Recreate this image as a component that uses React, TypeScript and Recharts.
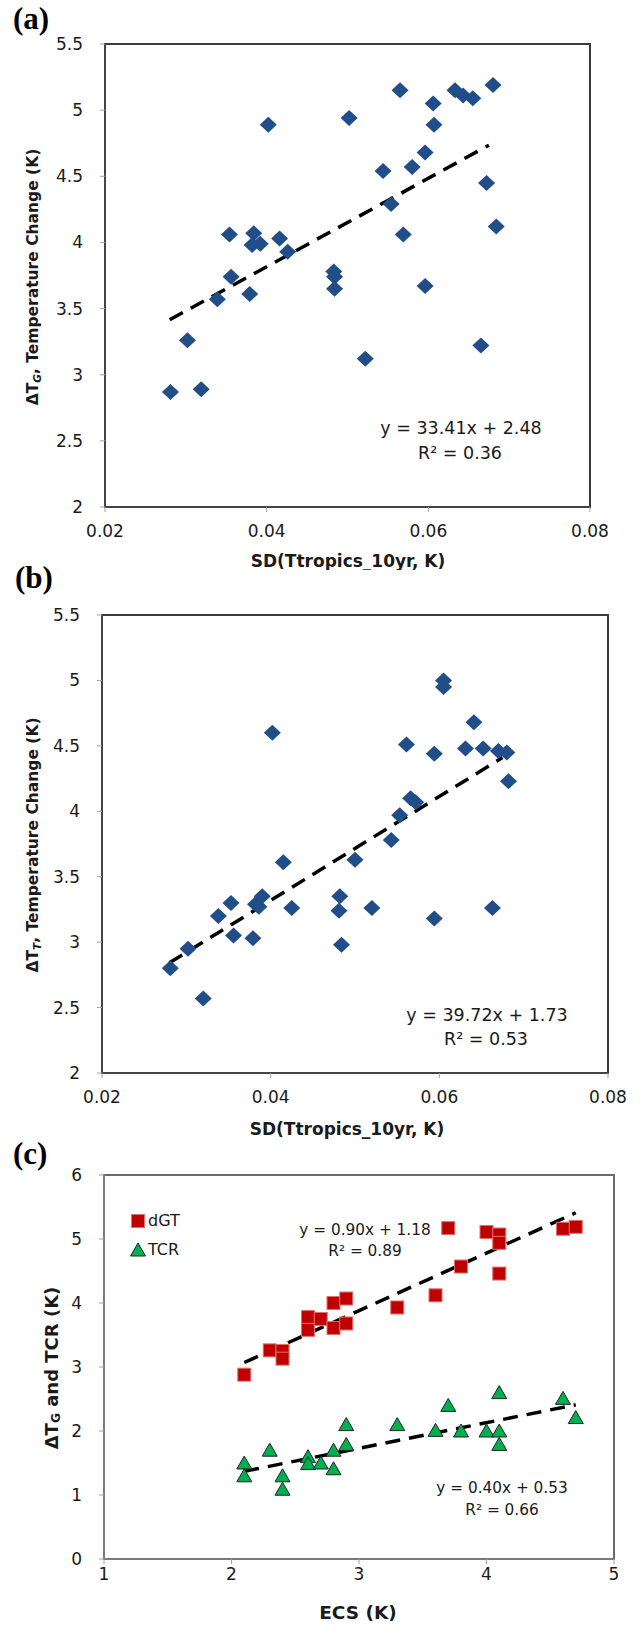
import React from 'react';
import { ScatterChart, Scatter, XAxis, YAxis, ReferenceLine, ReferenceArea, Legend, Label } from 'recharts';

const FONT = '"DejaVu Sans", Verdana, sans-serif';
const SERIF = '"Liberation Serif", "Times New Roman", serif';
const BLUE = '#214d88';
const RED = '#c00000';
const GREEN = '#00b050';
const INK = '#1a1a1a';

// (a) SD of tropical 10-yr temperature vs global warming
const sdTropicsA = [0.0281, 0.0302, 0.0319, 0.0339, 0.0354, 0.0356, 0.0379, 0.0384, 0.0382, 0.0392, 0.0402, 0.0416, 0.0426, 0.0483, 0.0484, 0.0484, 0.0502, 0.0522, 0.0544, 0.0554, 0.0565, 0.0569, 0.058, 0.0596, 0.0596, 0.0606, 0.0607, 0.0633, 0.0643, 0.0655, 0.0665, 0.0672, 0.068, 0.0684];
const dTGlobal = [2.87, 3.26, 2.89, 3.57, 4.06, 3.74, 3.61, 4.07, 3.98, 3.99, 4.89, 4.03, 3.93, 3.78, 3.74, 3.65, 4.94, 3.12, 4.54, 4.29, 5.15, 4.06, 4.57, 4.68, 3.67, 5.05, 4.89, 5.15, 5.11, 5.09, 3.22, 4.45, 5.19, 4.12];

// (b) same x, tropical warming
const sdTropicsB = [0.0281, 0.0302, 0.032, 0.0338, 0.0353, 0.0356, 0.0379, 0.0382, 0.0386, 0.039, 0.0402, 0.0415, 0.0425, 0.0482, 0.0481, 0.0484, 0.05, 0.052, 0.0543, 0.0553, 0.0561, 0.0566, 0.0572, 0.0594, 0.0594, 0.0605, 0.0605, 0.0631, 0.0641, 0.0652, 0.0663, 0.067, 0.068, 0.0682];
const dTTropics = [2.8, 2.95, 2.57, 3.2, 3.3, 3.05, 3.03, 3.29, 3.27, 3.35, 4.6, 3.61, 3.26, 3.35, 3.24, 2.98, 3.63, 3.26, 3.78, 3.97, 4.51, 4.1, 4.07, 4.44, 3.18, 5.0, 4.95, 4.48, 4.68, 4.48, 3.26, 4.46, 4.45, 4.23];

// (c) ECS vs dGT and TCR
const ecsDGT = [2.1, 2.3, 2.4, 2.4, 2.6, 2.6, 2.7, 2.8, 2.8, 2.9, 2.9, 3.3, 3.6, 3.7, 3.8, 4.0, 4.1, 4.1, 4.1, 4.6, 4.7];
const dGT = [2.88, 3.26, 3.25, 3.13, 3.78, 3.58, 3.75, 4.0, 3.61, 4.07, 3.68, 3.93, 4.12, 5.17, 4.57, 5.11, 5.07, 4.94, 4.46, 5.16, 5.19];
const ecsTCR = [2.1, 2.1, 2.3, 2.4, 2.4, 2.6, 2.6, 2.7, 2.8, 2.8, 2.9, 2.9, 3.3, 3.6, 3.7, 3.8, 4.0, 4.1, 4.1, 4.1, 4.6, 4.7];
const tcr = [1.5, 1.3, 1.7, 1.3, 1.09, 1.6, 1.49, 1.5, 1.7, 1.41, 2.1, 1.79, 2.1, 2.01, 2.4, 2.0, 2.0, 2.6, 2.0, 1.79, 2.51, 2.21];

const sdTicks = [0.02, 0.04, 0.06, 0.08];
const tempTicks = [2, 2.5, 3, 3.5, 4, 4.5, 5, 5.5];
const ecsTicks = [1, 2, 3, 4, 5];
const kTicks = [0, 1, 2, 3, 4, 5, 6];

// linear fits shown on the figure
const fitA = { slope: 33.41, icpt: 2.48, from: 0.028, to: 0.0675 };
const fitB = { slope: 39.72, icpt: 1.73, from: 0.028, to: 0.0675 };
const fitDGT = { slope: 0.9, icpt: 1.18, from: 2.1, to: 4.7 };
const fitTCR = { slope: 0.4, icpt: 0.53, from: 2.1, to: 4.7 };

const pts = (xs: number[], ys: number[]) => xs.map((x, i) => ({ x, y: ys[i] }));
const seg = (f: { slope: number; icpt: number; from: number; to: number }) => [
  { x: f.from, y: f.slope * f.from + f.icpt },
  { x: f.to, y: f.slope * f.to + f.icpt },
];

const DiamondDot = (p: any) => {
  const { cx, cy } = p;
  if (cx == null || cy == null) return null;
  const rx = 8.5, ry = 8;
  return <polygon points={`${cx},${cy - ry} ${cx + rx},${cy} ${cx},${cy + ry} ${cx - rx},${cy}`} fill={BLUE} />;
};
const SquareDot = (p: any) => {
  const { cx, cy } = p;
  if (cx == null || cy == null) return null;
  return <rect x={cx - 6.5} y={cy - 6.5} width={13} height={13} fill={RED} stroke="#e27070" strokeWidth={1} />;
};
const TriangleDot = (p: any) => {
  const { cx, cy } = p;
  if (cx == null || cy == null) return null;
  return <polygon points={`${cx},${cy - 7} ${cx + 7.5},${cy + 6} ${cx - 7.5},${cy + 6}`} fill={GREEN} stroke="#222" strokeWidth={1} />;
};

const axisDark = { stroke: '#444', strokeWidth: 2 };
const axisGrey = { stroke: '#7a7a7a', strokeWidth: 2 };
const tickLine = { stroke: '#a0a0a0' };
const tickStyle = { fontSize: 17, fill: INK, fontFamily: FONT };
const dash = { stroke: '#000', strokeWidth: 3.5, strokeDasharray: '15 9' };

const YTitle = ({ x, y, size, sub, rest, italicSub }: any) => (
  <text x={x} y={y} transform={`rotate(-90 ${x} ${y})`} textAnchor="middle" dominantBaseline="central"
    fontFamily={FONT} fontWeight="bold" fontSize={size} fill={INK}>
    ΔT
    <tspan dy={size * 0.28} fontSize={size * 0.68} fontStyle={italicSub ? 'italic' : 'normal'}>{sub}</tspan>
    <tspan dy={-size * 0.28}>{rest}</tspan>
  </text>
);

const XTitle = ({ x, y, size, text }: any) => (
  <text x={x} y={y} textAnchor="middle" dominantBaseline="central" fontFamily={FONT} fontWeight="bold" fontSize={size} fill={INK}>
    {text}
  </text>
);

const SdPanel = ({ data, fit, sub, box }: any) => (
  <ScatterChart width={640} height={box.h} margin={box.margin}>
    <XAxis type="number" dataKey="x" domain={[0.02, 0.08]} ticks={sdTicks} height={30} tickSize={5} tickMargin={13}
      axisLine={axisDark} tickLine={tickLine} tick={tickStyle}>
      <Label content={() => <XTitle x={box.xt[0]} y={box.xt[1]} size={17} text="SD(Ttropics_10yr, K)" />} />
    </XAxis>
    <YAxis type="number" dataKey="y" domain={[2, 5.5]} ticks={tempTicks} width={60} tickSize={5} tickMargin={17}
      axisLine={axisDark} tickLine={tickLine} tick={tickStyle}>
      <Label content={() => <YTitle x={box.yt[0]} y={box.yt[1]} size={15.5} sub={sub} rest=", Temperature Change (K)" italicSub />} />
    </YAxis>
    <ReferenceArea x1={0.02} x2={0.08} y1={2} y2={5.5} fill="none" stroke="#3a3a3a" strokeWidth={2} ifOverflow="visible" />
    <ReferenceLine segment={seg(fit)} {...dash} />
    <Scatter data={data} shape={DiamondDot} fill={BLUE} isAnimationActive={false} />
  </ScatterChart>
);

const legendItems = [
  { name: 'dGT', Marker: SquareDot },
  { name: 'TCR', Marker: TriangleDot },
];

const LegendBox = () => (
  <div style={{ fontFamily: FONT, fontSize: 16, color: INK, lineHeight: '29px' }}>
    {legendItems.map(({ name, Marker }) => (
      <div key={name} style={{ display: 'flex', alignItems: 'center' }}>
        <svg width={16} height={16} style={{ marginRight: 2 }}>
          <Marker cx={8} cy={8} />
        </svg>
        <span>{name}</span>
      </div>
    ))}
  </div>
);

export default function App() {
  return (
    <div style={{ position: 'absolute', left: 0, top: 0, width: 640, height: 1627, background: '#fff', fontFamily: FONT }}>
      <div style={{ position: 'absolute', left: 0, top: 0 }}>
        <SdPanel data={pts(sdTropicsA, dTGlobal)} fit={fitA} sub="G"
          box={{ h: 570, margin: { top: 44, right: 50, bottom: 33, left: 45 }, xt: [348, 561], yt: [33, 277] }} />
      </div>
      <div style={{ position: 'absolute', left: 0, top: 570 }}>
        <SdPanel data={pts(sdTropicsB, dTTropics)} fit={fitB} sub="T"
          box={{ h: 578, margin: { top: 45, right: 32, bottom: 45, left: 42 }, xt: [347, 559], yt: [33, 275] }} />
      </div>
      <div style={{ position: 'absolute', left: 0, top: 1135 }}>
        <ScatterChart width={640} height={492} margin={{ top: 40, right: 26, bottom: 38, left: 44 }}>
          <XAxis type="number" dataKey="x" domain={[1, 5]} ticks={ecsTicks} height={30} tickSize={5} tickMargin={4}
            axisLine={axisGrey} tickLine={tickLine} tick={tickStyle}>
            <Label content={() => <XTitle x={358} y={477} size={18.5} text="ECS (K)" />} />
          </XAxis>
          <YAxis type="number" dataKey="y" domain={[0, 6]} ticks={kTicks} width={60} tickSize={5} tickMargin={17}
            axisLine={axisGrey} tickLine={tickLine} tick={tickStyle}>
            <Label content={() => <YTitle x={51} y={233} size={18} sub="G" rest=" and TCR (K)" />} />
          </YAxis>
          <ReferenceArea x1={1} x2={5} y1={0} y2={6} fill="none" stroke="#6a6a6a" strokeWidth={2} ifOverflow="visible" />
          <ReferenceLine segment={seg(fitDGT)} {...dash} />
          <ReferenceLine segment={seg(fitTCR)} {...dash} />
          <Scatter name="dGT" data={pts(ecsDGT, dGT)} shape={SquareDot} fill={RED} isAnimationActive={false} />
          <Scatter name="TCR" data={pts(ecsTCR, tcr)} shape={TriangleDot} fill={GREEN} isAnimationActive={false} />
          <Legend layout="vertical" align="center" verticalAlign="middle" content={() => <LegendBox />}
            wrapperStyle={{ left: 130, top: 71, width: 'auto', height: 'auto' }} />
        </ScatterChart>
      </div>
      <svg width={640} height={1627} style={{ position: 'absolute', left: 0, top: 0, pointerEvents: 'none' }}>
        <g fontFamily={SERIF} fontWeight="bold" fontSize={31} fill="#000">
          <text x={13} y={29}>(a)</text>
          <text x={15} y={588}>(b)</text>
          <text x={13} y={1164}>(c)</text>
        </g>
        <g fontFamily={FONT} fill={INK} textAnchor="middle" dominantBaseline="central">
          <text x={461} y={428} fontSize={17.5}>y = 33.41x + 2.48</text>
          <text x={460} y={453} fontSize={17.5}>R² = 0.36</text>
          <text x={487} y={1015} fontSize={17.5}>y = 39.72x + 1.73</text>
          <text x={486} y={1039} fontSize={17.5}>R² = 0.53</text>
          <text x={365} y={1230} fontSize={15.3}>y = 0.90x + 1.18</text>
          <text x={365} y={1251} fontSize={15.3}>R² = 0.89</text>
          <text x={502} y={1488} fontSize={15.3}>y = 0.40x + 0.53</text>
          <text x={502} y={1510} fontSize={15.3}>R² = 0.66</text>
        </g>
      </svg>
    </div>
  );
}
